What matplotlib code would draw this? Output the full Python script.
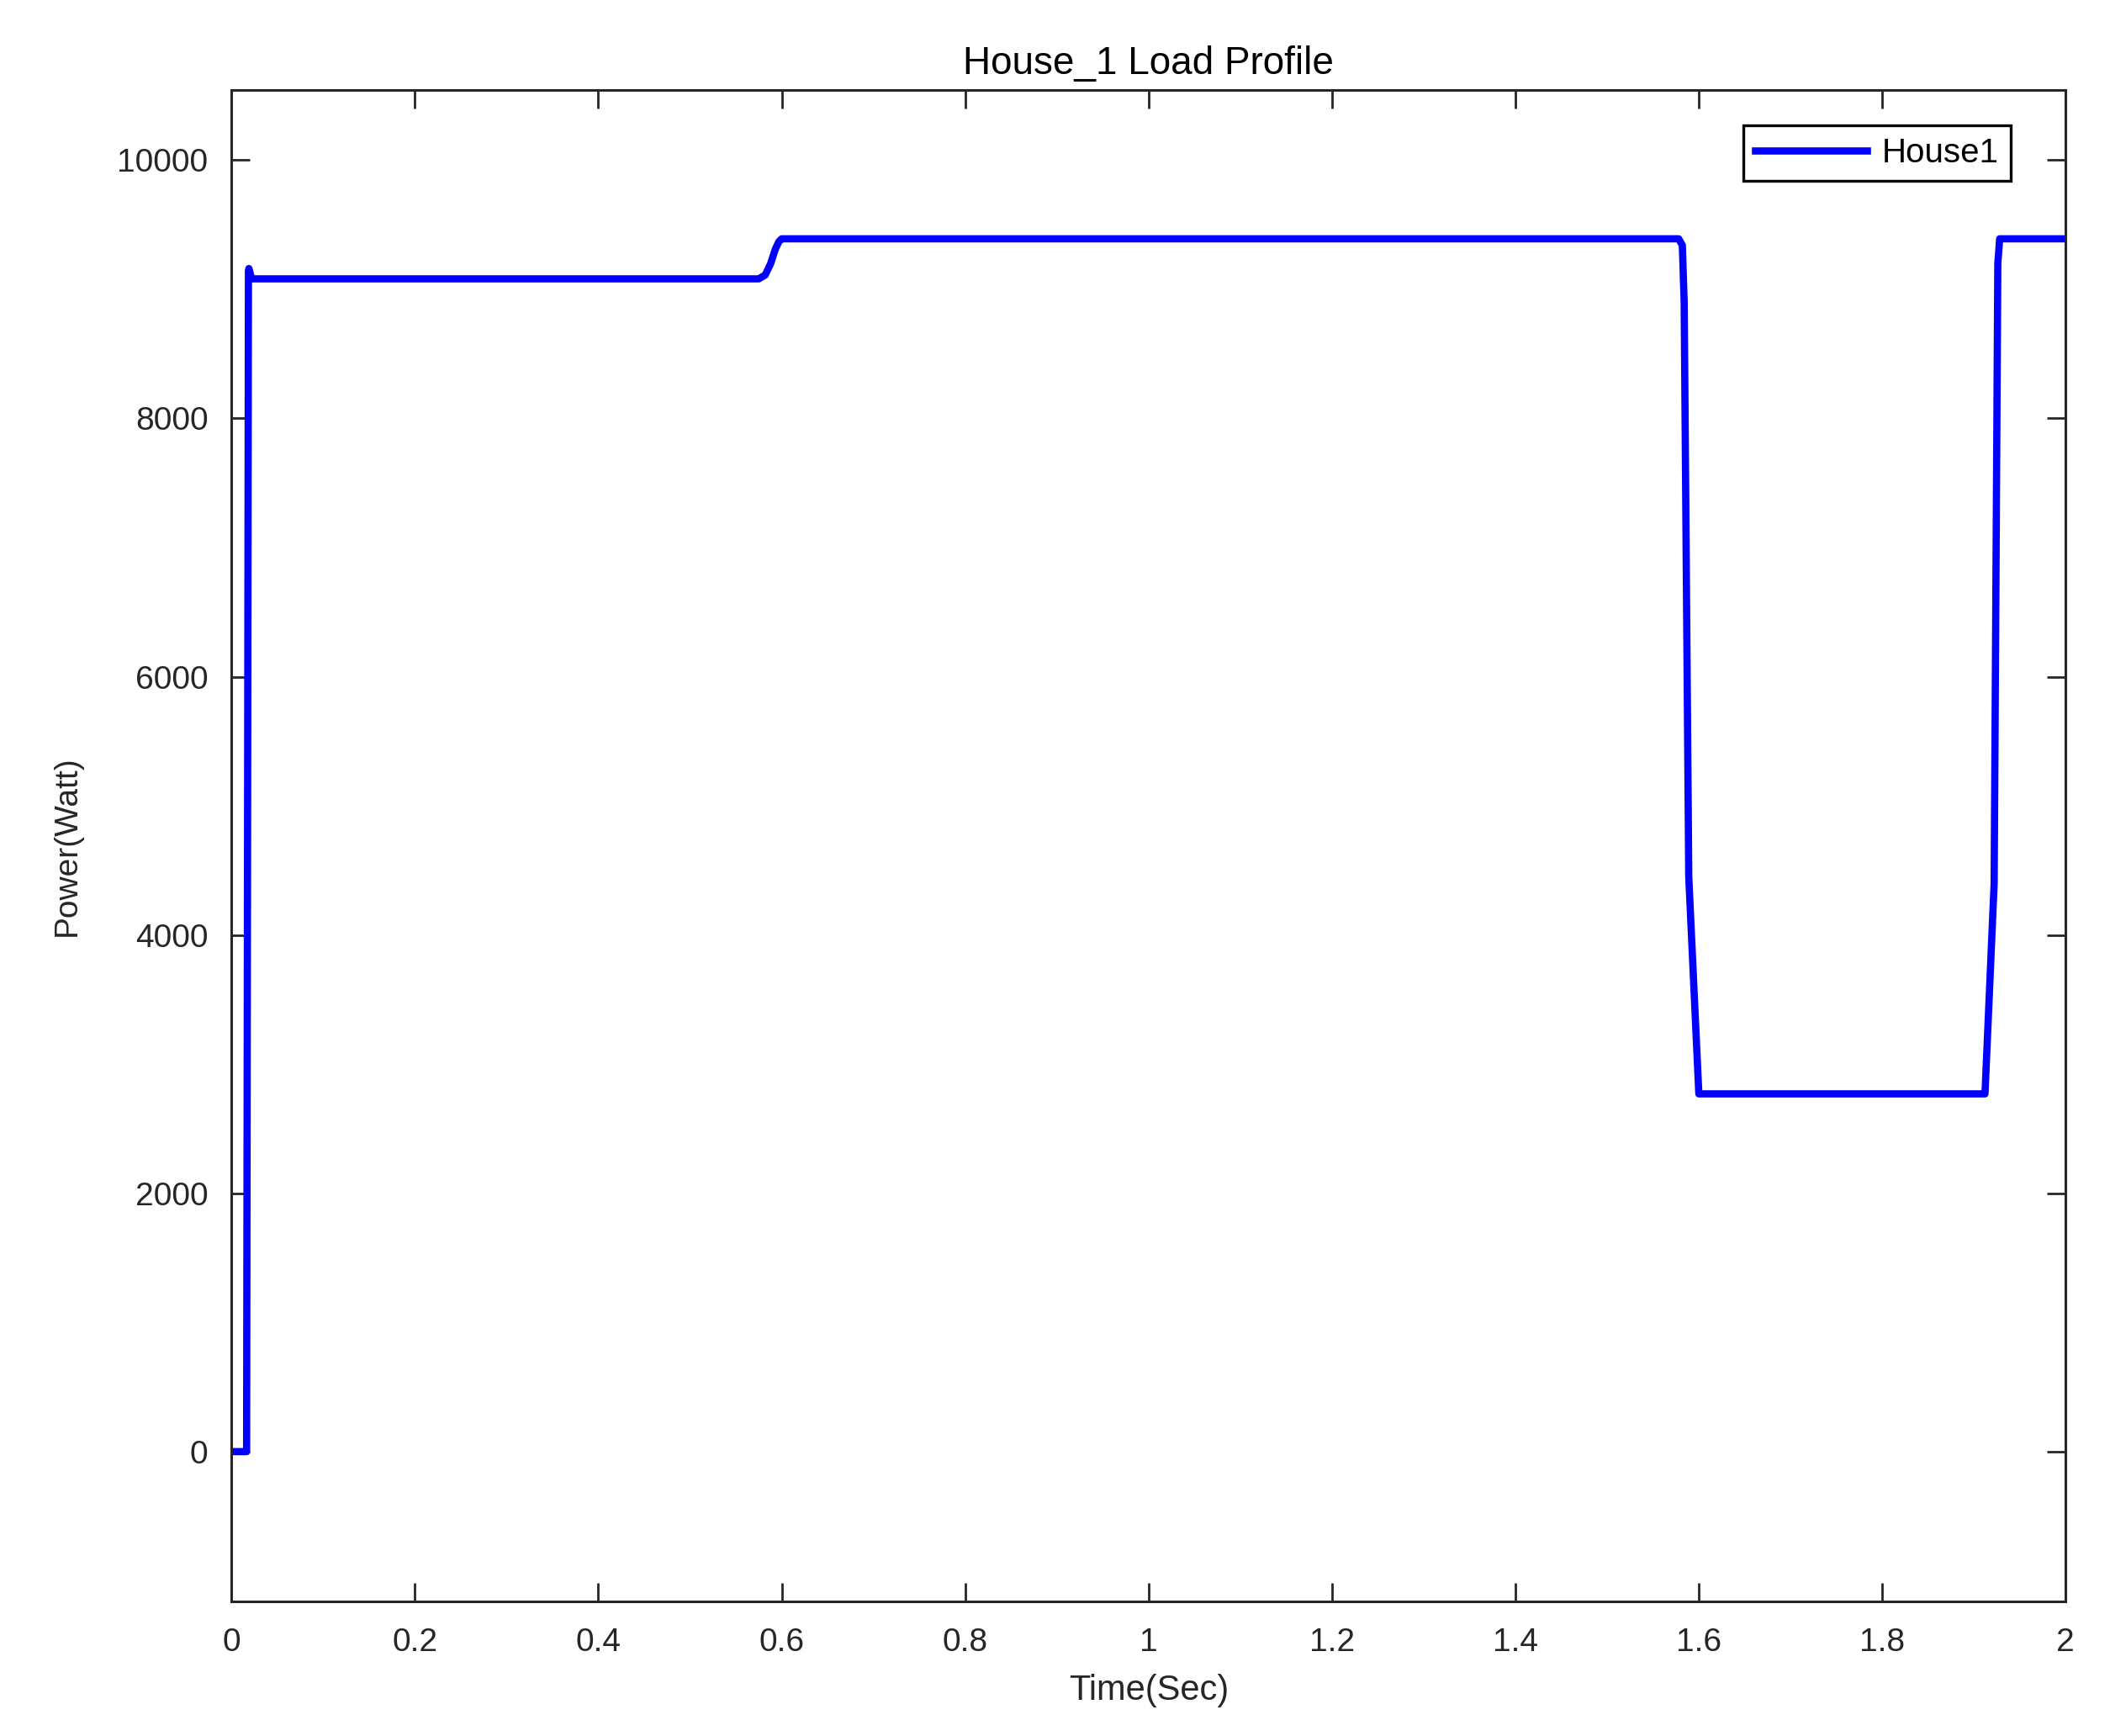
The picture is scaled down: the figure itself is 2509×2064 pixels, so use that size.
import numpy as np
import matplotlib
matplotlib.use('Agg')
import matplotlib.pyplot as plt

# values
time_sec = [0.0, 0.0165, 0.0185, 0.019, 0.022, 0.575, 0.582, 0.588,
            0.593, 0.597, 0.600, 1.578, 1.582, 1.584, 1.589, 1.600,
            1.912, 1.922, 1.926, 1.928, 2.0]
power_watt = [0, 0, 9140, 9160, 9080, 9080, 9110, 9200,
              9310, 9370, 9390, 9390, 9340, 8900, 4450, 2770,
              2770, 4400, 9200, 9390, 9390]

x_ticks = [0, 0.2, 0.4, 0.6, 0.8, 1, 1.2, 1.4, 1.6, 1.8, 2]
x_tick_labels = ['0', '0.2', '0.4', '0.6', '0.8', '1', '1.2', '1.4',
                 '1.6', '1.8', '2']
y_ticks = [0, 2000, 4000, 6000, 8000, 10000]

plt.rcParams['font.family'] = ['Liberation Sans', 'DejaVu Sans']

fig = plt.figure(figsize=(25.09, 20.64), dpi=100)
ax = fig.add_axes([0.1097, 0.0775, 0.8693, 0.8705])

ax.plot(time_sec, power_watt, color='#0000ff', linewidth=6.2,
        label='House1', solid_joinstyle='round')

ax.set_xlim(0, 2)
ax.set_ylim(-1160, 10540)
ax.set_xticks(x_ticks)
ax.set_xticklabels(x_tick_labels)
ax.set_yticks(y_ticks)

# MATLAB style box with ticks inside on all four sides
ax.tick_params(direction='in', length=16, width=2, top=True, right=True,
               labelsize=28, colors='#262626')
ax.tick_params(axis='x', pad=22)
ax.tick_params(axis='y', pad=20)
for s in ax.spines.values():
    s.set_linewidth(2.2)
    s.set_color('#262626')

ax.set_title('House_1 Load Profile', fontsize=33, color='black', pad=14)
ax.set_xlabel('Time(Sec)', fontsize=30, color='#262626', labelpad=14)
ax.set_ylabel('Power(Watt)', fontsize=28, color='#262626', labelpad=30)

leg = ax.legend(loc='upper right', fontsize=29, fancybox=False,
                framealpha=1, edgecolor='black', handlelength=3.3,
                bbox_to_anchor=(0.97, 0.977), borderaxespad=0,
                handletextpad=0.45, borderpad=0.35)
leg.get_frame().set_linewidth(2.4)

fig.savefig('out.png', dpi=100)
